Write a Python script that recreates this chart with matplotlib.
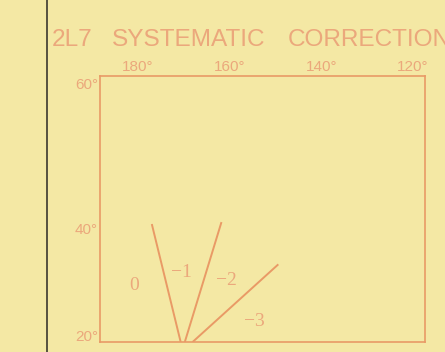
import numpy as np
import matplotlib
matplotlib.use("Agg")
import matplotlib.pyplot as plt
from matplotlib.lines import Line2D

# Tick positions (longitude W, latitude N)
lon_ticks = [180, 160, 140, 120]
lat_ticks = [20, 40, 60]

# Boundary lines between correction zones: (lon, lat) start -> end
line_lon = [[170.7, 177.0], [169.8, 161.8], [168.1, 149.4]]
line_lat = [[18.3, 40.7], [18.3, 41.0], [18.3, 34.1]]

# Zone labels
zone_text = ["0", "\u22121", "\u22122", "\u22123"]
zone_lon = [180.9, 170.5, 160.7, 154.6]
zone_lat = [30.4, 32.7, 31.3, 23.0]

# title words and their left edges (pixels)
title_words = ["2L7", "SYSTEMATIC", "CORRECTION"]
title_x = [52, 112, 288]

bg = "#f4e8a4"
orange = "#e99a66"
txt = "#eba87c"

fig = plt.figure(figsize=(4.45, 3.52), dpi=100)
fig.patch.set_facecolor(bg)

ax = fig.add_axes([100 / 445, 10 / 352, 325 / 445, 266 / 352])
ax.set_facecolor(bg)

# map-like stretched latitude axis
p = 1.6
ax.set_yscale("function", functions=(lambda v: np.sign(v) * np.abs(v) ** p,
                                     lambda v: np.sign(v) * np.abs(v) ** (1 / p)))
ax.set_xlim(188.3, 117.4)
ax.set_ylim(18.3, 60.9)

for xs, ys in zip(line_lon, line_lat):
    ax.plot(xs, ys, color=orange, lw=1.4, solid_capstyle="butt")

for t, x, y in zip(zone_text, zone_lon, zone_lat):
    ax.text(x, y, t, color=txt, fontsize=14, family="Liberation Serif",
            ha="center", va="center")

ax.xaxis.tick_top()
ax.set_xticks(lon_ticks)
ax.set_xticklabels([f"{v}\u00b0" for v in lon_ticks])
ax.set_yticks(lat_ticks)
ax.set_yticklabels([f"{v}\u00b0" for v in lat_ticks])
ax.yaxis.set_minor_locator(matplotlib.ticker.NullLocator())
ax.tick_params(axis="both", length=0, colors=txt, labelsize=11, pad=1.5)
for lab in ax.get_xticklabels() + ax.get_yticklabels():
    lab.set_family("Liberation Sans")

for s in ax.spines.values():
    s.set_color(orange)
    s.set_linewidth(1.2)

for w, x in zip(title_words, title_x):
    fig.text(x / 445, 1 - 46 / 352, w, color=txt, fontsize=17.6,
             family="Liberation Sans", ha="left", va="baseline")

# page fold line on the left
fig.add_artist(Line2D([47 / 445, 47 / 445], [0, 1], color="#4a4638", lw=1.3))

fig.savefig("out.png", dpi=100, facecolor=bg)
